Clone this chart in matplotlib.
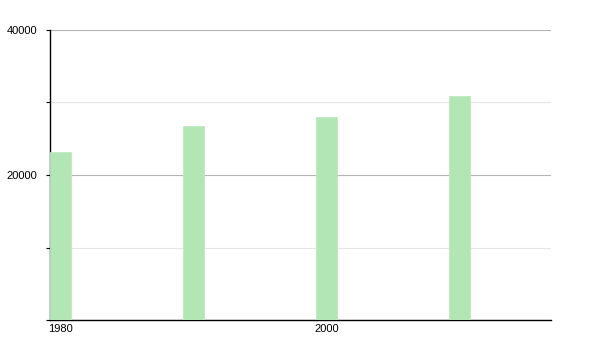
from matplotlib import pyplot as plt
from matplotlib.ticker import MultipleLocator, FuncFormatter

years = [1980, 1990, 2000, 2010]
values = [23200, 26800, 28000, 30900]
x_labels = ['1980', '2000']
x_label_years = [1980, 2000]

bar_width = 1.6

plt.rcParams['font.family'] = ['Liberation Sans', 'DejaVu Sans']

fig = plt.figure(figsize=(6, 3.5), dpi=100)
ax = fig.add_axes([50 / 600, 30 / 350, 501 / 600, 290 / 350])

ax.bar(years, values, width=bar_width, align='edge',
       color='#b3e6b5', edgecolor='#bfeabf', linewidth=0.6, zorder=3)

ax.set_xlim(1980, 2017.65)
ax.set_ylim(0, 40000)

# y axis: labelled majors every 20000 (no label at 0), plain minors every 10000
ax.yaxis.set_major_locator(MultipleLocator(20000))
ax.yaxis.set_minor_locator(MultipleLocator(10000))
ax.yaxis.set_major_formatter(FuncFormatter(lambda v, p: '' if v == 0 else f'{v:.0f}'))
ax.grid(axis='y', which='major', color='#b4b4b4', linewidth=0.8, zorder=0)
ax.grid(axis='y', which='minor', color='#e6e6e6', linewidth=0.8, zorder=0)
ax.tick_params(axis='y', which='both', length=3, width=0.8,
               labelsize=8, pad=6, colors='black')

ax.set_xticks([y + bar_width / 2 for y in x_label_years])
ax.set_xticklabels(x_labels)
ax.tick_params(axis='x', length=0, labelsize=8, pad=3)

for side in ('top', 'right'):
    ax.spines[side].set_visible(False)
for side in ('left', 'bottom'):
    ax.spines[side].set_linewidth(1.0)
    ax.spines[side].set_color('black')

fig.savefig('out.png', dpi=100)
